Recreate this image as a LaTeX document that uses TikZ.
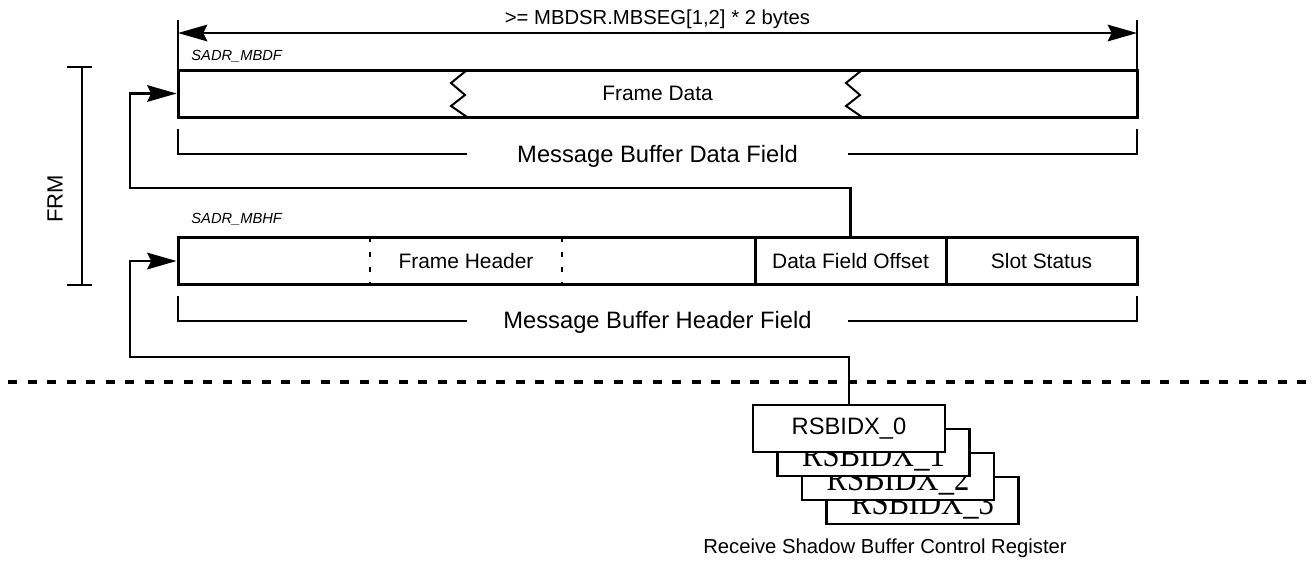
\documentclass[tikz,border=0pt]{standalone}
\usepackage{fontspec}
\setmainfont{Liberation Sans}
\newfontfamily\rsserif{Liberation Serif}
\usetikzlibrary{arrows.meta}
\begin{document}
\begin{tikzpicture}[x=0.75pt, y=-0.75pt, line width=1.5pt,
  >={Stealth[length=22pt, width=12.5pt, inset=3pt]},
  box/.style={draw, line width=2.25pt, inner sep=0pt, minimum height=35.25pt},
  cell/.style={box, minimum width=143.25pt, font=\fontsize{15.7}{18}\selectfont},
  reg/.style={draw, fill=white, line width=1.9pt, inner sep=0pt, minimum width=144pt, minimum height=35.25pt},
  conn/.style={->, line width=1.6pt},
  bracket/.style={line width=1.6pt},
  small/.style={font=\fontsize{15.7}{18}\selectfont},
  big/.style={font=\fontsize{17.8}{20}\selectfont},
  addr/.style={font=\fontsize{11}{13}\selectfont\itshape},
  divider/.style={line width=1.5pt, dash pattern=on 3.5pt off 7.75pt}]
  \useasboundingbox (0,0) rectangle (1316,562);
  % size of the data field
  \draw[line width=1.4pt] (178,20) -- (178,70) (1137,20) -- (1137,70);
  \draw[<->, line width=1.4pt] (178,33) -- (1137,33);
  \node[anchor=base, font=\fontsize{15.2}{18}\selectfont] (size) at (657.5,24.5) {>= MBDSR.MBSEG[1,2] * 2 bytes};
  % data field
  \node[addr, anchor=base west] (mbdf) at (186,60) {SADR\_MBDF};
  \node[box, minimum width=719.25pt, small] (data) at (657.5,93.5) {Frame Data};
  \foreach \zx in {467,862}
    \draw (\zx,70) -- ++(-16,13) -- ++(14,12) -- ++(-14,11) -- ++(16,11);
  \draw[bracket] (178,129) |- (467,154);
  \draw[bracket] (1137,129) |- (848,154);
  \node[big, anchor=base] (datafield) at (657.5,162) {Message Buffer Data Field};
  % header field
  \node[addr, anchor=base west] (mbhf) at (186,223) {SADR\_MBHF};
  \node[box, minimum width=719.25pt] (hdr) at (657.5,261) {};
  \node[cell] (dfo) at (850.5,261) {Data Field Offset};
  \node[cell] (slot) at (1041.5,261) {Slot Status};
  \draw[divider] (370,237) -- (370,285);
  \draw[divider] (562,237) -- (562,285);
  \node[small] (fh) at (466,261) {Frame Header};
  \draw[bracket] (178,296) |- (467,321);
  \draw[bracket] (1137,296) |- (848,321);
  \node[big, anchor=base] (hdrfield) at (657.5,328) {Message Buffer Header Field};
  % FRM
  \draw[bracket] (67,67) -- (92,67) (82,67) -- (82,285) (67,285) -- (92,285);
  \node[rotate=90, font=\fontsize{16.5}{18}\selectfont] (frm) at (55,199) {FRM};
  % separator
  \draw[line width=2.6pt, dash pattern=on 6.75pt off 7.9pt] (8,382) -- (1316,382);
  % shadow buffer registers
  \foreach \i in {3,2,1} {
    \node[reg] (rs\i) at (849+24.5*\i,428.5+24*\i) {};
    \node[anchor=base, xscale=0.85, font=\fontsize{27}{28}\rsserif] (rt\i) at (873.5+24.5*\i-24.5,442+24*\i) {RSBIDX\_\i};
  }
  \node[reg, font=\fontsize{17.8}{20}\selectfont] (rs0) at (849,428.5) {RSBIDX\_0};
  \node[anchor=base, font=\fontsize{15.2}{18}\selectfont] (rsbc) at (885,553) {Receive Shadow Buffer Control Register};
  % pointers
  \coordinate (d1) at (130,188);
  \coordinate (h1) at (130,357);
  \draw[conn] (dfo.north) |- (d1) |- (data.west);
  \draw[conn] (rs0.north) |- (h1) |- (hdr.west);
\end{tikzpicture}
\end{document}
